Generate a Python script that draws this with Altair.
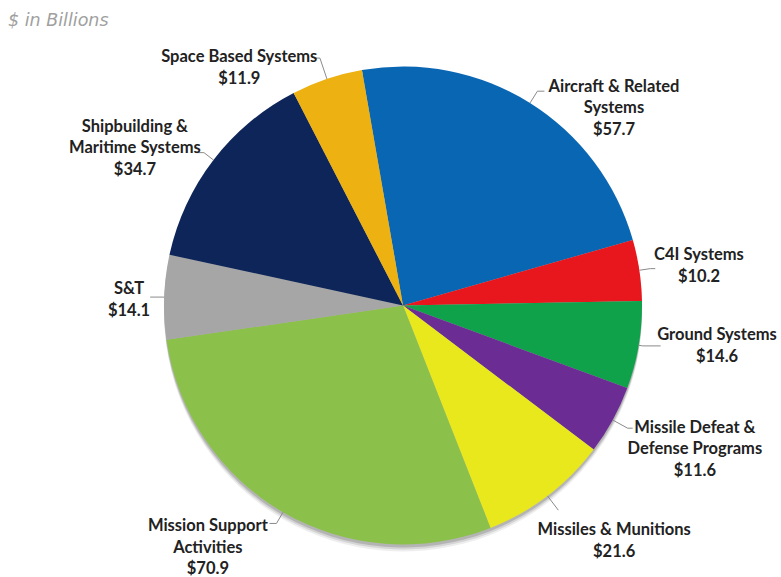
import math
import altair as alt
import pandas as pd

# ---- data ----
categories = [
    "Aircraft & Related Systems", "C4I Systems", "Ground Systems",
    "Missile Defeat & Defense Programs", "Missiles & Munitions",
    "Mission Support Activities", "S&T", "Shipbuilding & Maritime Systems",
    "Space Based Systems",
]
values = [57.7, 10.2, 14.6, 11.6, 21.6, 70.9, 14.1, 34.7, 11.9]
label_lines = [
    "Aircraft & Related\nSystems", "C4I Systems", "Ground Systems",
    "Missile Defeat &\nDefense Programs", "Missiles & Munitions",
    "Mission Support\nActivities", "S&T", "Shipbuilding &\nMaritime Systems",
    "Space Based Systems",
]

# ---- styles / layout ----
colors = ["#0966B3", "#E8171D", "#0FA24B", "#6B2D93", "#E8E81C",
          "#8BC14A", "#A6A6A6", "#0D2559", "#EDB112"]
label_nudge_deg = [14.8, 0.9, -2.25, -2.4, -4.7, 8.7, -0.85, -7.1, -16.0]
label_radius = [289, 298.6, 316.6, 325.4, 316.2, 311.2, 274, 310.9, 288.6]
leader_ext = [14, 11, 4, 17, 18, 13, 2, 12, 22]
leader_hook = [7, 5, 18, 5, 0, -7, -12, -8, -6]

START = -9.9 * math.pi / 180
R = 239
LH = 21.5
PAD_L, PAD_T = 25, 34
W, H = 781 - PAD_L, 577 - PAD_T
CX, CY = W / 2, H / 2

labels_full = [f"{l}\n${v}" for l, v in zip(label_lines, values)]
df = pd.DataFrame({
    "category": categories,
    "value": values,
    "order": list(range(len(categories))),
    "label": labels_full,
    "nlines": [s.count("\n") + 1 for s in labels_full],
    "nudge": label_nudge_deg,
    "lab_r": label_radius,
    "ext": leader_ext,
    "hook": leader_hook,
})

base = alt.Chart(df)

theta_enc = alt.Theta("value:Q", stack=True,
                      scale=alt.Scale(range=[START, START + 2 * math.pi]))
order_enc = alt.Order("order:Q")

shadows = [
    base.mark_arc(radius=R, yOffset=off, color="#222", opacity=op).encode(
        theta=theta_enc, order=order_enc
    )
    for off, op in [(7, 0.08), (5, 0.12), (3, 0.18)]
]

pie = base.mark_arc(radius=R).encode(
    theta=theta_enc,
    order=order_enc,
    color=alt.Color("category:N", scale=alt.Scale(domain=categories, range=colors),
                    legend=None),
)

geo = (
    base.transform_window(cum="sum(value)", sort=[alt.SortField("order")], frame=[None, 0])
    .transform_joinaggregate(total="sum(value)")
    .transform_calculate(mid=f"{START} + 2*PI*(datum.cum - datum.value/2)/datum.total")
    .transform_calculate(
        la="datum.mid + datum.nudge*PI/180",
        x0=f"{CX} + {R}*sin(datum.mid)",
        y0=f"{CY} - {R}*cos(datum.mid)",
        x1=f"{CX} + ({R}+datum.ext)*sin(datum.mid)",
        y1=f"{CY} - ({R}+datum.ext)*cos(datum.mid)",
    )
    .transform_calculate(
        lx=f"{CX} + datum.lab_r*sin(datum.la)",
        ly=f"{CY} - datum.lab_r*cos(datum.la) - (datum.nlines-1)*{LH}/2",
        x2="datum.x1 + datum.hook",
    )
)

lead1 = geo.mark_rule(color="#8a8a8a", strokeWidth=1).encode(
    x=alt.X("x0:Q", scale=None, axis=None), y=alt.Y("y0:Q", scale=None, axis=None),
    x2="x1:Q", y2="y1:Q",
)
lead2 = geo.mark_rule(color="#8a8a8a", strokeWidth=1).encode(
    x=alt.X("x1:Q", scale=None, axis=None), y=alt.Y("y1:Q", scale=None, axis=None),
    x2="x2:Q", y2="y1:Q",
)

labels = geo.mark_text(
    align="center", baseline="middle", lineBreak="\n", font="Lato",
    fontWeight="bold", fontSize=16.5, lineHeight=LH, color="#222222",
).encode(
    x=alt.X("lx:Q", scale=None, axis=None),
    y=alt.Y("ly:Q", scale=None, axis=None),
    text="label:N",
)

chart = alt.layer(*shadows, pie, lead1, lead2, labels).properties(
    width=W, height=H,
    padding={"left": PAD_L, "top": PAD_T, "right": 0, "bottom": 0},
    autosize=alt.AutoSizeParams(type="none"),
    title=alt.TitleParams(
        "$ in Billions", anchor="start", dx=-17, dy=17, offset=8, baseline="alphabetic",
        fontSize=17.5, fontStyle="italic", fontWeight="normal", color="#a0a0a0",
        font="DejaVu Sans",
    ),
).configure_view(stroke=None)

chart.save("out.html", embed_options={"renderer": "svg", "actions": False})
